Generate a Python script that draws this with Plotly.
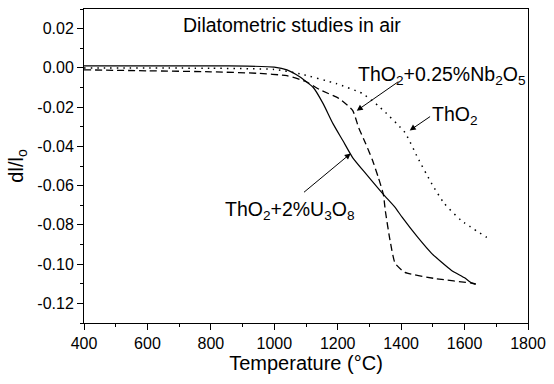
import plotly.graph_objects as go

# Dilatometric shrinkage curves (dl/lo vs temperature)
t_u3o8 = [400, 600, 800, 915, 1000, 1040, 1080, 1123, 1154, 1185, 1216, 1247, 1288,
          1344, 1381, 1403, 1452, 1496, 1558, 1600, 1623, 1635]
dl_u3o8 = [0.0010, 0.0010, 0.0010, 0.0009, 0.0004, -0.0010, -0.0045, -0.0100, -0.0182,
           -0.0284, -0.0370, -0.0457, -0.0538, -0.0645, -0.0711, -0.0761, -0.0863,
           -0.0945, -0.1031, -0.1070, -0.1097, -0.1103]

t_nb2o5 = [400, 600, 800, 950, 1040, 1100, 1142, 1204, 1247, 1266, 1288, 1310, 1328,
           1344, 1350, 1365, 1381, 1412, 1505, 1629, 1635]
dl_nb2o5 = [-0.0010, -0.0015, -0.0020, -0.0028, -0.0040, -0.0070, -0.0110, -0.0156,
            -0.0217, -0.0304, -0.0385, -0.0472, -0.0558, -0.0645, -0.0727, -0.0879,
            -0.0996, -0.1042, -0.1073, -0.1098, -0.1100]

t_tho2 = [400, 800, 1000, 1080, 1195, 1278, 1334, 1412, 1452, 1496, 1536, 1589, 1670]
dl_tho2 = [0.0000, -0.0002, -0.0008, -0.0030, -0.0080, -0.0131, -0.0202, -0.0330,
           -0.0457, -0.0589, -0.0691, -0.0777, -0.0864]

x_ticks = [400, 600, 800, 1000, 1200, 1400, 1600, 1800]
x_minor = [500, 700, 900, 1100, 1300, 1500, 1700]
y_ticks = [0.02, 0.00, -0.02, -0.04, -0.06, -0.08, -0.10, -0.12]
y_labels = ["0.02", "0.00", "-0.02", "-0.04", "-0.06", "-0.08", "-0.10", "-0.12"]
y_minor = [0.03, 0.01, -0.01, -0.03, -0.05, -0.07, -0.09, -0.11, -0.13]

FONT = "Arial, Liberation Sans, sans-serif"

fig = go.Figure()
fig.add_trace(go.Scatter(x=t_u3o8, y=dl_u3o8, mode="lines",
                         line=dict(color="black", width=1.2, shape="spline", smoothing=0.5)))
fig.add_trace(go.Scatter(x=t_nb2o5, y=dl_nb2o5, mode="lines",
                         line=dict(color="black", width=1.3, dash="7px,4px",
                                   shape="spline", smoothing=0.5)))
fig.add_trace(go.Scatter(x=t_tho2, y=dl_tho2, mode="lines",
                         line=dict(color="black", width=1.5, dash="1.5px,5px",
                                   shape="spline", smoothing=0.5)))

txt = dict(showarrow=False, xref="x", yref="y", font=dict(family=FONT, size=19.5, color="black"),
           xanchor="left", yanchor="middle")
fig.add_annotation(x=707, y=0.022, text="Dilatometric studies in air", **txt)
fig.add_annotation(x=1257, y=-0.0040, text="ThO<sub>2</sub>+0.25%Nb<sub>2</sub>O<sub>5</sub>", **txt)
fig.add_annotation(x=1490, y=-0.0245, text="ThO<sub>2</sub>", **txt)
fig.add_annotation(x=838, y=-0.0725, text="ThO<sub>2</sub>+2%U<sub>3</sub>O<sub>8</sub>", **txt)

arr = dict(text="", showarrow=True, xref="x", yref="y", axref="x", ayref="y",
           arrowhead=2, arrowsize=1.2, arrowwidth=1, arrowcolor="black")
fig.add_annotation(x=1260, y=-0.0218, ax=1396, ay=-0.0065, **arr)
fig.add_annotation(x=1427, y=-0.0319, ax=1496, ay=-0.0243, **arr)
fig.add_annotation(x=1241, y=-0.0436, ax=1089, ay=-0.0640, **arr)

axis_common = dict(showline=True, linecolor="black", linewidth=1, mirror=True,
                   showgrid=False, zeroline=False, ticks="outside", ticklen=6,
                   tickwidth=1, tickcolor="black",
                   tickfont=dict(family=FONT, size=16, color="black"))

fig.update_xaxes(range=[400, 1800], tickmode="array", tickvals=x_ticks,
                 minor=dict(tickmode="array", tickvals=x_minor, ticks="outside",
                            ticklen=3, tickcolor="black"),
                 title=dict(text="Temperature (°C)", font=dict(family=FONT, size=20, color="black"),
                            standoff=3),
                 **axis_common)
fig.update_yaxes(range=[-0.13, 0.03], tickmode="array", tickvals=y_ticks, ticktext=y_labels,
                 minor=dict(tickmode="array", tickvals=y_minor, ticks="outside",
                            ticklen=3, tickcolor="black"),
                 title=dict(text="dl/l<sub>o</sub>", font=dict(family=FONT, size=20, color="black"),
                            standoff=8),
                 **axis_common)

fig.update_layout(width=554, height=384, margin=dict(l=84, r=19, t=8, b=61),
                  paper_bgcolor="white", plot_bgcolor="white", showlegend=False)

fig.write_html("out.html")
